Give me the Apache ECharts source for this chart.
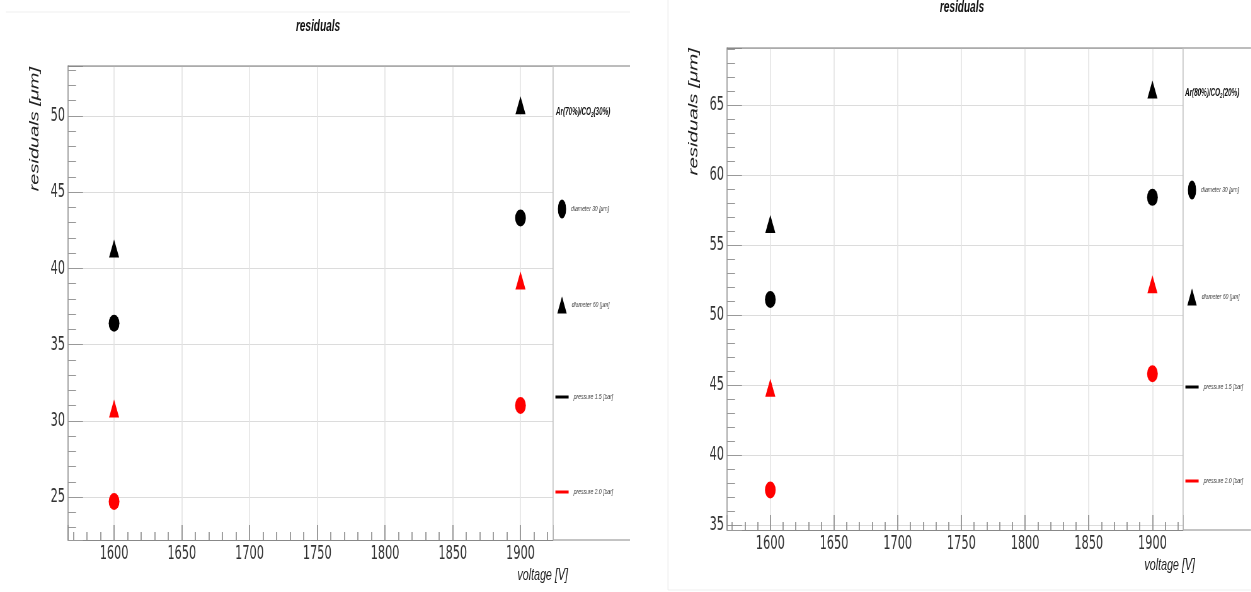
<!DOCTYPE html>
<html>
<head>
<meta charset="utf-8">
<title>residuals</title>
<script src="https://cdn.jsdelivr.net/npm/echarts@6/dist/echarts.min.js"></script>
<style>
  html, body { margin: 0; padding: 0; background: #fff; overflow: hidden; }
  #wrap { width: 1251px; height: 592px; overflow: hidden; position: relative; background: #fff; }
  /* the figure is drawn wide and compressed horizontally */
  #chart { width: 1986px; height: 592px; transform: scaleX(0.63); transform-origin: 0 0; }
</style>
</head>
<body>
<div id="wrap"><div id="chart"></div></div>
<script>
// ---- data ----------------------------------------------------------------
const voltages = [1600, 1900];

// Ar(70%)/CO2(30%)
const ar70Diam30P15 = [36.4, 43.3];
const ar70Diam60P15 = [41.3, 50.7];
const ar70Diam30P20 = [24.7, 31.0];
const ar70Diam60P20 = [30.8, 39.2];

// Ar(80%)/CO2(20%)
const ar80Diam30P15 = [51.1, 58.4];
const ar80Diam60P15 = [56.5, 66.1];
const ar80Diam30P20 = [37.5, 45.8];
const ar80Diam60P20 = [44.8, 52.2];

const legendNames = ['diameter 30 [μm]', 'diameter 60 [μm]', 'pressure 1.5 [bar]', 'pressure 2.0 [bar]'];
const gasLabels = ['Ar(70%)/CO{sub|2}(30%)', 'Ar(80%)/CO{sub|2}(20%)'];

const xRange = [1566, 1924];
const yRangeLeft = [22.18, 53.28];
const yRangeRight = [34.64, 69.07];

// ---- layout --------------------------------------------------------------
const S = 0.63;               // horizontal compression factor
const px = x => x / S;        // screen x -> drawing x
const NARROW = "'Liberation Sans Narrow', 'DejaVu Sans Condensed', 'Liberation Sans', sans-serif";
const SANS = "'Liberation Sans', Arial, sans-serif";

const panels = [
  { plotL: 68, plotR: 553, top: 66, bottom: 540, edge: 630, y: yRangeLeft,
    title: { x: 318, y: 27 }, yTitle: { x: 35, y: 67, size: 20 }, xTitle: { x: 568, y: 575 },
    legX: 562, header: { x: 556, y: 112 }, legY: [209, 305, 398, 493] },
  { plotL: 727, plotR: 1183, top: 48, bottom: 530, edge: 1251, y: yRangeRight,
    title: { x: 962, y: 8 }, yTitle: { x: 694, y: 48, size: 20.5 }, xTitle: { x: 1195, y: 565 },
    legX: 1192, header: { x: 1185, y: 93 }, legY: [190, 297, 388, 482] }
];

const ELLIPSE = 'path://M50,0A50,50,0,1,1,50,100A50,50,0,1,1,50,0Z';
const legendIcons = [
  { icon: ELLIPSE, color: '#000', w: 13, h: 19 },
  { icon: 'triangle', color: '#000', w: 15, h: 17 },
  { icon: 'rect', color: '#000', w: 21, h: 3 },
  { icon: 'rect', color: '#f00', w: 21, h: 3 }
];

const isMultiple = (v, step) => Math.abs(v / step - Math.round(v / step)) < 1e-6;

const grids = panels.map(p => ({
  left: px(p.plotL), top: p.top,
  width: px(p.plotR) - px(p.plotL), height: p.bottom - p.top,
  containLabel: false, outerBoundsMode: 'none'
}));

const xAxes = panels.map((p, i) => ({
  type: 'value', gridIndex: i, min: xRange[0], max: xRange[1],
  minInterval: 50, maxInterval: 50, splitNumber: 7,
  axisLine: { show: true, onZero: false, lineStyle: { color: '#888', width: 1 } },
  axisTick: { show: true, inside: true, length: 15, lineStyle: { color: '#888', width: 1.6 } },
  minorTick: { show: true, splitNumber: 5, length: 8, lineStyle: { color: '#888', width: 1.6 } },
  axisLabel: { show: true, margin: 4, fontSize: 20, fontFamily: NARROW, color: '#333',
    showMinLabel: true, showMaxLabel: true,
    formatter: v => isMultiple(v, 50) ? String(Math.round(v)) : '' },
  splitLine: { show: true, lineStyle: { color: '#e4e4e4', width: 1.6 } }
}));

const yAxes = panels.map((p, i) => ({
  type: 'value', gridIndex: i, min: p.y[0], max: p.y[1],
  minInterval: 5, maxInterval: 5, splitNumber: 6,
  axisLine: { show: true, onZero: false, lineStyle: { color: '#999', width: 1.6 } },
  axisTick: { show: true, inside: true, length: px(15), lineStyle: { color: '#999', width: 1 } },
  minorTick: { show: true, splitNumber: 5, length: px(8), lineStyle: { color: '#999', width: 1 } },
  axisLabel: { show: true, margin: px(3), fontSize: 20, fontFamily: NARROW, color: '#333',
    showMinLabel: true, showMaxLabel: true,
    formatter: v => isMultiple(v, 5) ? String(Math.round(v)) : '' },
  splitLine: { show: true, lineStyle: { color: '#dcdcdc', width: 1 } }
}));

// ---- series --------------------------------------------------------------
const pairs = vals => voltages.map((v, k) => [v, vals[k]]);
const CIRCLE = { symbol: 'circle', symbolSize: 17 };
const TRIANGLE = { symbol: 'triangle', symbolSize: [16, 18] };
const BLACK = { color: '#000', opacity: 1 };
const RED = { color: '#f00', opacity: 1 };

function panelSeries(i, d30p15, d60p15, d30p20, d60p20) {
  const base = { type: 'scatter', xAxisIndex: i, yAxisIndex: i, z: 5, silent: true };
  return [
    Object.assign({}, base, CIRCLE, { name: 'diameter 30 [μm], pressure 1.5 [bar]', itemStyle: BLACK, data: pairs(d30p15) }),
    Object.assign({}, base, TRIANGLE, { name: 'diameter 60 [μm], pressure 1.5 [bar]', itemStyle: BLACK, data: pairs(d60p15) }),
    Object.assign({}, base, CIRCLE, { name: 'diameter 30 [μm], pressure 2.0 [bar]', itemStyle: RED, data: pairs(d30p20) }),
    Object.assign({}, base, TRIANGLE, { name: 'diameter 60 [μm], pressure 2.0 [bar]', itemStyle: RED, data: pairs(d60p20) })
  ];
}

// entries that only carry the legend keys
const keySeries = legendNames.map((n, k) => ({
  type: 'scatter', name: n, xAxisIndex: 0, yAxisIndex: 0, data: [],
  itemStyle: { color: legendIcons[k].color, opacity: 1 }
}));

const series = [].concat(
  panelSeries(0, ar70Diam30P15, ar70Diam60P15, ar70Diam30P20, ar70Diam60P20),
  panelSeries(1, ar80Diam30P15, ar80Diam60P15, ar80Diam30P20, ar80Diam60P20),
  keySeries
);

// ---- legends (one block per key, per panel) ------------------------------
const legends = [];
panels.forEach(p => {
  legendNames.forEach((n, k) => {
    const ic = legendIcons[k];
    legends.push({
      show: true, orient: 'vertical', selectedMode: false, padding: 0,
      symbolKeepAspect: false,
      left: px(p.legX) - ic.w / 2, top: p.legY[k] - Math.max(ic.h, 10) / 2,
      itemWidth: ic.w, itemHeight: ic.h,
      data: [{ name: n, icon: ic.icon, itemStyle: { color: ic.color, opacity: 1, borderWidth: 0 } }],
      textStyle: { fontSize: 8, fontStyle: 'italic', fontFamily: SANS, color: '#444', padding: [0, 0, 0, 3] }
    });
  });
});

// ---- frame, titles ----------------------------------------------------------
const graphic = [];
const hLine = (x1, x2, y, color) => ({ type: 'line', silent: true, z: 10,
  shape: { x1: px(x1), y1: y, x2: px(x2), y2: y }, style: { stroke: color, lineWidth: 1 } });
const vLine = (x, y1, y2, color) => ({ type: 'line', silent: true, z: 10,
  shape: { x1: px(x), y1: y1, x2: px(x), y2: y2 }, style: { stroke: color, lineWidth: 1 / S } });

// faint outline of each figure
graphic.push(hLine(6, 630, 12, '#efefef'));
graphic.push(vLine(668, 0, 590, '#efefef'));
graphic.push(hLine(668, 1251, 590, '#efefef'));

panels.forEach((p, i) => {
  graphic.push(hLine(p.plotL, p.edge, p.top, '#7a7a7a'));
  graphic.push(hLine(p.plotR, p.edge, p.bottom, '#888'));
  graphic.push(vLine(p.plotR, p.top, p.bottom, '#c4c4c4'));

  graphic.push({ type: 'text', silent: true, z: 10, x: px(p.title.x), y: p.title.y,
    style: { text: 'residuals', fill: '#111', fontSize: 16, fontStyle: 'italic', fontWeight: 'bold',
      fontFamily: SANS, align: 'center', verticalAlign: 'middle' } });

  graphic.push({ type: 'text', silent: true, z: 10, x: px(p.yTitle.x), y: p.yTitle.y, rotation: Math.PI / 2,
    style: { text: 'residuals [μm]', fill: '#222', fontSize: p.yTitle.size, fontStyle: 'italic',
      fontFamily: SANS, align: 'right', verticalAlign: 'middle' } });

  graphic.push({ type: 'text', silent: true, z: 10, x: px(p.xTitle.x), y: p.xTitle.y,
    style: { text: 'voltage [V]', fill: '#222', fontSize: 17, fontStyle: 'italic',
      fontFamily: SANS, align: 'right', verticalAlign: 'middle' } });

  graphic.push({ type: 'text', silent: true, z: 10, x: px(p.header.x), y: p.header.y,
    style: { text: gasLabels[i], fill: '#111', fontSize: 10, fontStyle: 'italic', fontWeight: 'bold',
      fontFamily: SANS, align: 'left', verticalAlign: 'middle',
      rich: { sub: { fontSize: 7, fontStyle: 'italic', fontWeight: 'bold', fontFamily: SANS,
        fill: '#111', padding: [7, 0, 0, 0] } } } });
});

const chart = echarts.init(document.getElementById('chart'), null, { renderer: 'canvas' });
chart.setOption({
  animation: false,
  backgroundColor: '#fff',
  grid: grids,
  xAxis: xAxes,
  yAxis: yAxes,
  legend: legends,
  series: series,
  graphic: graphic
});
</script>
</body>
</html>
